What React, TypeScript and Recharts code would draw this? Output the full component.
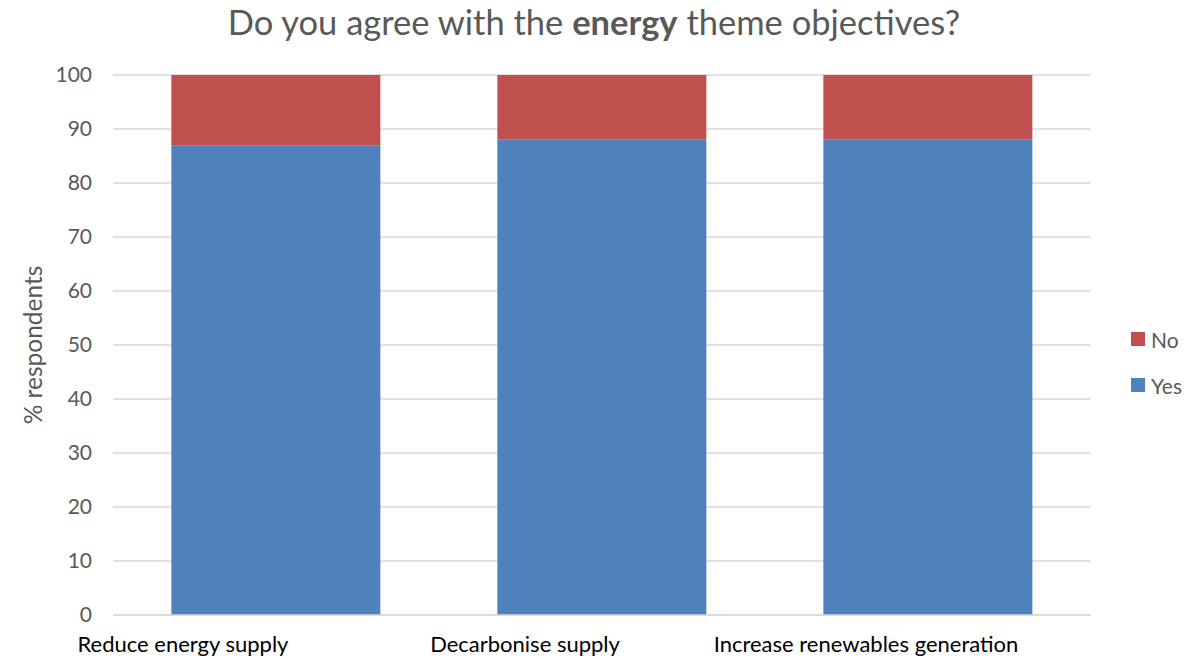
import { BarChart, Bar, XAxis, YAxis, CartesianGrid, Legend } from 'recharts';

// survey results, % of respondents
const categories = ['Reduce energy supply', 'Decarbonise supply', 'Increase renewables generation'];
const yesValues = [86.9, 88.1, 88.1];
const noValues = [13.1, 11.9, 11.9];
const yTicks = [0, 10, 20, 30, 40, 50, 60, 70, 80, 90, 100];

const COLORS = { yes: '#4F81BD', no: '#C0504D' };
const FONT = 'Lato, "Open Sans", sans-serif';
const TEXT = '#595959';

// excel drew the category labels a bit left of their bars
const LABEL_SHIFT = [-93, -77, -62];

const data = categories.map((name, i) => ({ name, Yes: yesValues[i], No: noValues[i] }));

function CategoryTick(props: any) {
  const { x, y, payload, index } = props;
  return (
    <text
      x={x + (LABEL_SHIFT[index] || 0)}
      y={y}
      dy={29}
      textAnchor="middle"
      fill="#000"
      fontSize={22}
      fontFamily={FONT}
    >
      {payload.value}
    </text>
  );
}

function YLabel(props: any) {
  const { viewBox } = props;
  const cy = viewBox.y + viewBox.height / 2;
  const cx = 32;
  return (
    <text
      x={cx}
      y={cy}
      transform={`rotate(-90, ${cx}, ${cy})`}
      textAnchor="middle"
      dominantBaseline="central"
      fill={TEXT}
      fontSize={24.5}
      fontFamily={FONT}
    >
      % respondents
    </text>
  );
}

function LegendContent() {
  const items = [
    { label: 'No', color: COLORS.no },
    { label: 'Yes', color: COLORS.yes },
  ];
  return (
    <div style={{ fontFamily: FONT, fontSize: 21, color: TEXT }}>
      {items.map((it) => (
        <div key={it.label} style={{ display: 'flex', alignItems: 'center', height: 46 }}>
          <span style={{ width: 14, height: 14, background: it.color, marginRight: 6, display: 'inline-block' }} />
          <span>{it.label}</span>
        </div>
      ))}
    </div>
  );
}

export default function App() {
  return (
    <div style={{ position: 'relative', width: 1201, height: 659, margin: '-8px 0 0 -8px', background: '#fff' }}>
      <div
        style={{
          position: 'absolute',
          top: 0,
          left: 0,
          width: 1188,
          textAlign: 'center',
          fontFamily: FONT,
          fontSize: 34.5,
          color: TEXT,
          lineHeight: '44px',
        }}
      >
        Do you agree with the <b>energy</b> theme objectives?
      </div>
      <BarChart
        width={1201}
        height={659}
        data={data}
        margin={{ top: 75, right: 110, bottom: 0, left: 0 }}
        barCategoryGap="17.9%"
      >
        <CartesianGrid vertical={false} stroke="#D9D9D9" strokeWidth={1.3} />
        <XAxis
          dataKey="name"
          height={44}
          axisLine={{ stroke: '#D9D9D9', strokeWidth: 1.3 }}
          tickLine={false}
          interval={0}
          tick={<CategoryTick />}
        />
        <YAxis
          width={113}
          domain={[0, 100]}
          ticks={yTicks}
          axisLine={false}
          tickLine={false}
          tickSize={0}
          tickMargin={21}
          tick={{ fill: TEXT, fontSize: 21, fontFamily: FONT }}
          label={<YLabel />}
        />
        <Legend
          layout="vertical"
          align="center"
          verticalAlign="middle"
          content={<LegendContent />}
          wrapperStyle={{ left: 1131, top: 316, width: 70, height: 92 }}
        />
        <Bar dataKey="Yes" stackId="a" fill={COLORS.yes} isAnimationActive={false} />
        <Bar dataKey="No" stackId="a" fill={COLORS.no} isAnimationActive={false} />
      </BarChart>
    </div>
  );
}
